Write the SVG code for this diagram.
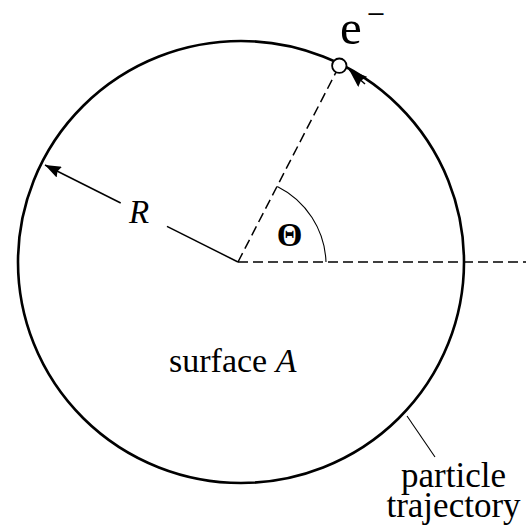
<svg xmlns="http://www.w3.org/2000/svg" width="526" height="528" viewBox="0 0 526 528">
  <style>
    text { font-family: 'Liberation Serif', 'Times New Roman', serif; fill: #000; }
    .solid { fill: none; stroke: #000; stroke-width: 1.5; }
    .dash { fill: none; stroke: #000; stroke-width: 1.5; stroke-dasharray: 10 5; }
    .thin { fill: none; stroke: #000; stroke-width: 1.1; }
  </style>
  <defs>
    <marker id="arrow" viewBox="0 0 16 12" refX="16" refY="6" markerWidth="16" markerHeight="12" markerUnits="userSpaceOnUse" orient="auto">
      <path d="M0,0 L16,6 L0,12 L2,6 z" fill="#000"/>
    </marker>
    <marker id="arrowBig" viewBox="0 0 16 12" refX="16" refY="6" markerWidth="18" markerHeight="13.5" markerUnits="userSpaceOnUse" orient="auto">
      <path d="M0,0 L16,6 L0,12 L2,6 z" fill="#000"/>
    </marker>
  </defs>
  <rect width="526" height="528" fill="#fff"/>

  <g id="trajectory">
    <ellipse cx="241" cy="262" rx="223" ry="221" fill="none" stroke="#000" stroke-width="2.6"/>
  </g>

  <g id="connectors">
    <line class="dash" x1="238" y1="262" x2="526" y2="262"/>
    <line class="dash" x1="238" y1="262" x2="335.9" y2="72.4"/>
    <path class="thin" d="M326,262 A88,88 0 0 0 277.3,186.5"/>
    <line class="solid" x1="238" y1="262" x2="167" y2="226.3"/>
    <line class="solid" x1="120.7" y1="203" x2="45" y2="165" marker-end="url(#arrow)"/>
    <line class="solid" x1="365" y1="84" x2="349.3" y2="70" marker-end="url(#arrowBig)"/>
    <line class="thin" x1="407" y1="416" x2="435" y2="457"/>
  </g>

  <g id="electron">
    <circle cx="339.3" cy="65.7" r="7.2" fill="#fff" stroke="#000" stroke-width="1.8"/>
    <text x="340" y="44" font-size="49">e</text>
    <text x="0" y="0" font-size="24" font-weight="bold" transform="translate(367,21.5) scale(1.35,1)">−</text>
  </g>

  <g id="labels">
    <text x="129" y="223" font-size="33" font-style="italic">R</text>
    <text x="289.5" y="246" font-size="33" font-weight="bold" text-anchor="middle">Θ</text>
    <text x="169" y="372" font-size="34">surface <tspan font-style="italic">A</tspan></text>
    <text x="453.5" y="487" font-size="35" text-anchor="middle">particle</text>
    <text x="453.5" y="517" font-size="35" text-anchor="middle">trajectory</text>
  </g>
</svg>
